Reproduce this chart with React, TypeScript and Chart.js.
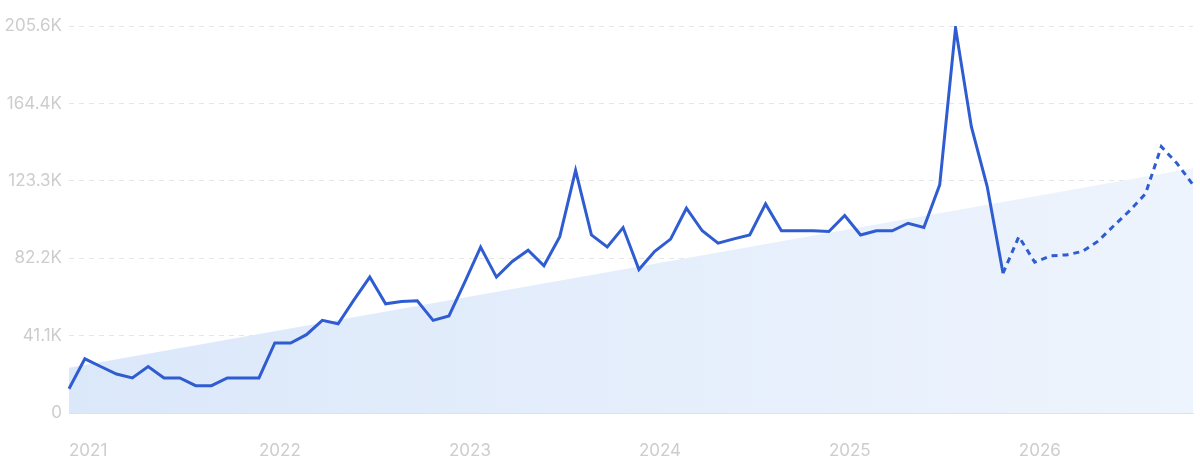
import React, { useEffect, useRef } from "react";
import { Chart, registerables } from "chart.js";

Chart.register(...registerables);

// Monthly categories Jan 2021 – Dec 2026
const months: string[] = [
  "2021-01","2021-02","2021-03","2021-04","2021-05","2021-06","2021-07","2021-08","2021-09","2021-10","2021-11","2021-12",
  "2022-01","2022-02","2022-03","2022-04","2022-05","2022-06","2022-07","2022-08","2022-09","2022-10","2022-11","2022-12",
  "2023-01","2023-02","2023-03","2023-04","2023-05","2023-06","2023-07","2023-08","2023-09","2023-10","2023-11","2023-12",
  "2024-01","2024-02","2024-03","2024-04","2024-05","2024-06","2024-07","2024-08","2024-09","2024-10","2024-11","2024-12",
  "2025-01","2025-02","2025-03","2025-04","2025-05","2025-06","2025-07","2025-08","2025-09","2025-10","2025-11","2025-12",
  "2026-01","2026-02","2026-03","2026-04","2026-05","2026-06","2026-07","2026-08","2026-09","2026-10","2026-11","2026-12",
];

// Observed values (Jan 2021 – Dec 2025)
const actualValues: number[] = [
  12900, 28800, 24700, 20700, 18600, 24700, 18600, 18600, 14500, 14500, 18600, 18600,
  18600, 37200, 37200, 41600, 49200, 47400, 60100, 72200, 58000, 59200, 59600, 49200,
  51600, 69500, 88100, 72200, 80500, 86500, 78200, 93700, 128900, 94600, 88200, 98500,
  76200, 85900, 92400, 108800, 96800, 90200, 92500, 94600, 111100, 96800, 96800, 96800,
  96400, 104900, 94600, 96800, 96800, 100800, 98600, 121200, 204600, 152100, 120300, 74300,
];

// Forecast values (Jan 2026 – Dec 2026)
const forecastValues: number[] = [
  93700, 80100, 83500, 84000, 85800, 91300, 99500, 107500, 116500, 141500, 132500, 121200,
];

// Trend area endpoints
const trendStartValue = 24000;
const trendEndValue = 130000;

const yTickValues: number[] = [0, 41120, 82240, 123360, 164480, 205600];
const yTickLabels: string[] = ["0", "41.1K", "82.2K", "123.3K", "164.4K", "205.6K"];

const LINE_COLOR = "#2f5dd1";
const TEXT_COLOR = "#cdcdcd";
const FONT_FAMILY = "Inter, 'Noto Sans', sans-serif";

export default function App() {
  const canvasRef = useRef<HTMLCanvasElement | null>(null);

  useEffect(() => {
    const canvas = canvasRef.current;
    if (!canvas) return;

    const nActual = actualValues.length;
    const solidData: (number | null)[] = months.map((_, i) => (i < nActual ? actualValues[i] : null));
    const dottedData: (number | null)[] = months.map((_, i) => {
      if (i === nActual - 1) return actualValues[i];
      if (i >= nActual) return forecastValues[i - nActual];
      return null;
    });
    const trendData = [
      { x: months[0], y: trendStartValue },
      { x: months[months.length - 1], y: trendEndValue },
    ];

    const chart = new Chart(canvas, {
      type: "line",
      data: {
        labels: months,
        datasets: [
          {
            label: "actual",
            data: solidData,
            borderColor: LINE_COLOR,
            borderWidth: 3,
            pointRadius: 0,
            tension: 0,
            fill: false,
            order: 0,
          },
          {
            label: "forecast",
            data: dottedData,
            borderColor: LINE_COLOR,
            borderWidth: 3,
            borderDash: [6, 5],
            pointRadius: 0,
            tension: 0,
            fill: false,
            order: 1,
          },
          {
            label: "trend",
            data: trendData as any,
            borderWidth: 0,
            borderColor: "rgba(0,0,0,0)",
            pointRadius: 0,
            fill: "origin",
            order: 2,
            backgroundColor: (ctx: any) => {
              const area = ctx.chart.chartArea;
              if (!area) return "#e4eefb";
              const g = ctx.chart.ctx.createLinearGradient(area.left, 0, area.right, 0);
              g.addColorStop(0, "#dbe8fa");
              g.addColorStop(1, "#eef4fd");
              return g;
            },
          },
        ],
      },
      options: {
        animation: false,
        responsive: false,
        maintainAspectRatio: false,
        layout: { padding: { top: 26, right: 7, left: 0, bottom: 0 } },
        plugins: {
          legend: { display: false },
          tooltip: { enabled: false },
        },
        scales: {
          x: {
            type: "category",
            offset: false,
            grid: { display: false, drawTicks: false },
            border: { display: true, color: "#d8e3f5", width: 1 },
            ticks: {
              autoSkip: false,
              maxRotation: 0,
              minRotation: 0,
              align: "start",
              padding: 28,
              color: TEXT_COLOR,
              font: { family: FONT_FAMILY, size: 17 },
              callback: (_v: any, i: number) => {
                const m = months[i];
                return m && m.endsWith("-01") ? m.slice(0, 4) : "";
              },
            },
            afterFit: (scale: any) => {
              scale.height = 53;
              scale.paddingLeft = 0;
              scale.paddingRight = 0;
            },
          },
          y: {
            min: 0,
            max: yTickValues[yTickValues.length - 1],
            grid: {
              drawTicks: false,
              color: (ctx: any) => (ctx.tick && ctx.tick.value === 0 ? "rgba(0,0,0,0)" : "#e6e6e6"),
              lineWidth: 1,
            },
            border: { display: false, dash: [5, 5] },
            afterBuildTicks: (scale: any) => {
              scale.ticks = yTickValues.map((v) => ({ value: v }));
            },
            ticks: {
              padding: 7,
              color: TEXT_COLOR,
              font: { family: FONT_FAMILY, size: 17 },
              callback: (v: any) => {
                const idx = yTickValues.indexOf(Number(v));
                return idx >= 0 ? yTickLabels[idx] : "";
              },
            },
            afterFit: (scale: any) => {
              scale.width = 69;
              scale.paddingTop = 0;
              scale.paddingBottom = 0;
            },
          },
        },
      },
    });

    return () => {
      chart.destroy();
    };
  }, []);

  return (
    <div style={{ position: "fixed", left: 0, top: 0, width: 1200, height: 466, background: "#ffffff" }}>
      <canvas ref={canvasRef} width={1200} height={466} style={{ width: 1200, height: 466, display: "block" }} />
    </div>
  );
}
